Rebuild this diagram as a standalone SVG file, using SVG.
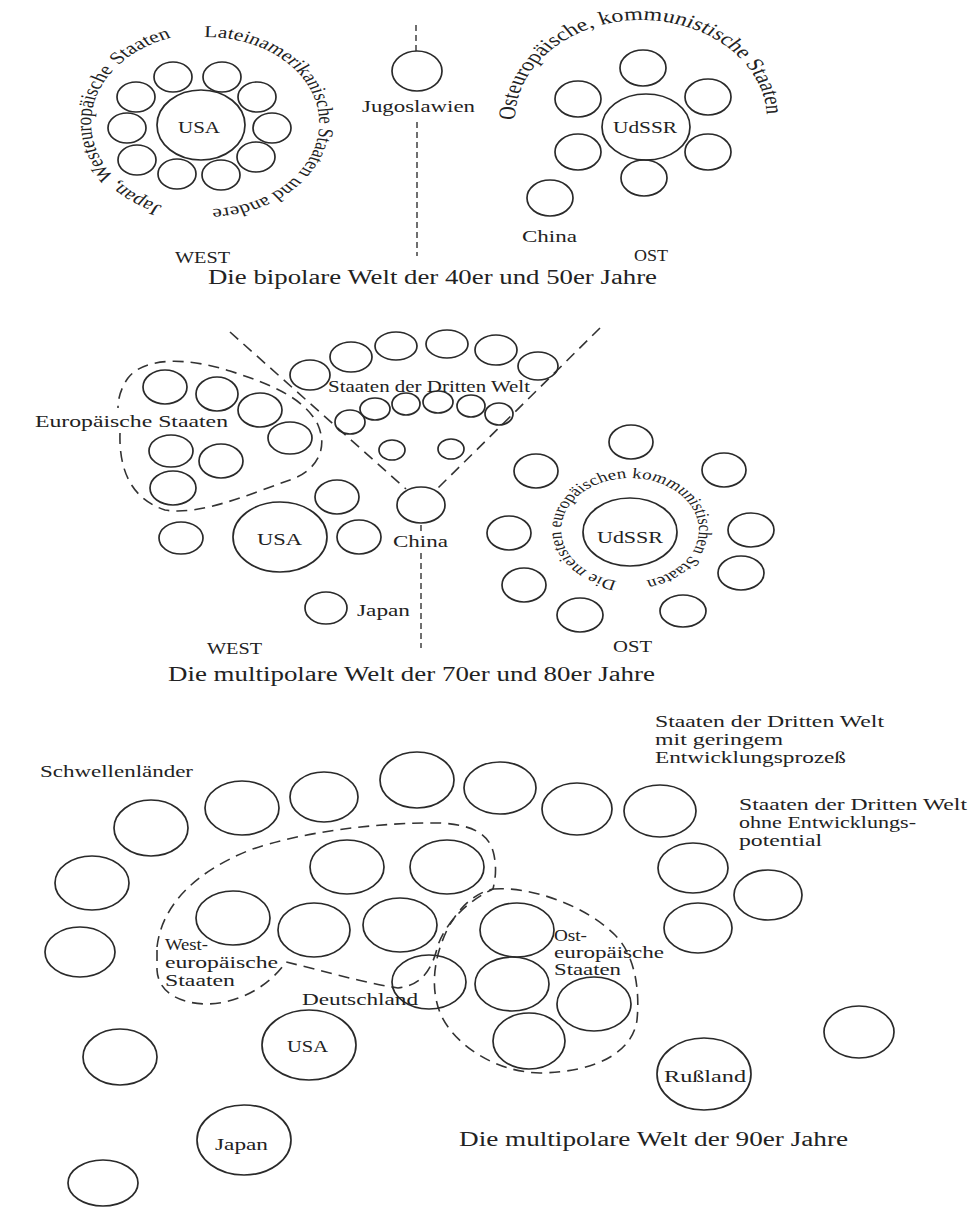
<svg xmlns="http://www.w3.org/2000/svg" xmlns:xlink="http://www.w3.org/1999/xlink" width="976" height="1208" viewBox="0 0 976 1208">
<style>
.c{fill:none;stroke:#2a2a2a;stroke-width:1.7}
.d{fill:none;stroke:#333;stroke-width:1.6;stroke-dasharray:11 7}
.v{fill:none;stroke:#333;stroke-width:1.4;stroke-dasharray:6 4}
.t{font-family:"Liberation Serif","Times New Roman",serif;font-size:17px;fill:#222}
.cap{font-size:20px}
.sm{font-size:16px}
.a1{font-size:17px}
.a2{font-size:16.6px}
.a3{font-size:18.5px}
.a4{font-size:14.7px}
</style>
<defs>
<path id="arcL1" d="M-35.2,82.8 A90,90 0 0 1 -27.8,-85.6"/>
<path id="arcR1" d="M-3,-85.95 A86,86 0 1 1 1.5,85.99"/>
<path id="arcO1" d="M-97,0 A97,100 0 1 1 96.76,6.98"/>
<path id="arcM" d="M-10.11,51.04 A53,52 0 1 1 12.82,50.46"/>
</defs>
<rect width="976" height="1208" fill="#fff"/>

<g id="connectors">
<line class="v" x1="416" y1="25" x2="416" y2="52"/>
<line class="v" x1="417" y1="122" x2="417" y2="256"/>
<path class="d" d="M120,433 C119,465 128,498 165,510 C200,516 250,494 290,480 C318,470 328,448 318,425 C305,398 270,384 230,371 C190,358 145,356 128,378 C121,388 118,398 118,408"/>
<line class="d" x1="230" y1="332" x2="406" y2="489"/>
<line class="d" x1="600" y1="328" x2="438" y2="488"/>
<line class="v" x1="421" y1="525" x2="421" y2="531"/>
<line class="v" x1="421" y1="553" x2="421" y2="648"/>
<path class="d" d="M157,947 C162,905 195,872 250,850 C300,832 380,822 440,823 C475,825 490,835 494,855 C497,870 495,880 493,889 C470,900 447,920 438,945 C433,965 425,985 398,988 C360,982 320,970 286,962 C270,985 240,1004 205,1004 C176,1003 158,990 157,970 Z"/>
<path class="d" d="M493,889 C530,886 585,905 615,935 C635,955 640,990 637,1020 C633,1050 600,1072 540,1073 C495,1072 455,1045 441,1015 C430,990 433,958 448,928 C460,906 475,893 493,889 Z"/>
</g>

<!-- ===== Die bipolare Welt ===== -->
<g id="usa-1950">
<ellipse class="c" cx="201" cy="125" rx="44" ry="35"/>
<text class="t" x="178" y="133" textLength="42" lengthAdjust="spacingAndGlyphs">USA</text>
</g>
<g id="west-allies-1950">
<ellipse class="c" cx="173" cy="77" rx="19" ry="15"/>
<ellipse class="c" cx="222" cy="77" rx="19" ry="15"/>
<ellipse class="c" cx="257" cy="97" rx="19" ry="15"/>
<ellipse class="c" cx="272" cy="128" rx="19" ry="15"/>
<ellipse class="c" cx="256" cy="157" rx="19" ry="15"/>
<ellipse class="c" cx="221" cy="175" rx="19" ry="15"/>
<ellipse class="c" cx="177" cy="174" rx="19" ry="15"/>
<ellipse class="c" cx="137" cy="160" rx="19" ry="15"/>
<ellipse class="c" cx="127" cy="128" rx="19" ry="15"/>
<ellipse class="c" cx="136" cy="97" rx="19" ry="15"/>
</g>
<g id="west-labels-1950" transform="translate(208,123) scale(1.3,1)">
<text class="t a1"><textPath xlink:href="#arcL1" href="#arcL1" startOffset="0">Japan,</textPath></text>
<text class="t a1"><textPath xlink:href="#arcL1" href="#arcL1" startOffset="47.2">Westeuropäische</textPath></text>
<text class="t a1"><textPath xlink:href="#arcL1" href="#arcL1" startOffset="167.6">Staaten</textPath></text>
<text class="t a2"><textPath xlink:href="#arcR1" href="#arcR1" startOffset="0">Lateinamerikanische</textPath></text>
<text class="t a2"><textPath xlink:href="#arcR1" href="#arcR1" startOffset="142.4">Staaten</textPath></text>
<text class="t a2"><textPath xlink:href="#arcR1" href="#arcR1" startOffset="195.5">und</textPath></text>
<text class="t a2"><textPath xlink:href="#arcR1" href="#arcR1" startOffset="224.5">andere</textPath></text>
</g>
<g id="west-1950"><text class="t" x="175" y="263" textLength="55" lengthAdjust="spacingAndGlyphs">WEST</text></g>
<g id="jugoslawien">
<ellipse class="c" cx="417" cy="71" rx="25" ry="20"/>
<text class="t" x="362" y="112" textLength="113" lengthAdjust="spacingAndGlyphs">Jugoslawien</text>
</g>
<g id="udssr-1950">
<ellipse class="c" cx="646" cy="127" rx="44" ry="33"/>
<text class="t" x="613" y="133" textLength="64" lengthAdjust="spacingAndGlyphs">UdSSR</text>
</g>
<g id="east-allies-1950">
<ellipse class="c" cx="643" cy="68" rx="23" ry="18"/>
<ellipse class="c" cx="578" cy="99" rx="23" ry="18"/>
<ellipse class="c" cx="708" cy="97" rx="23" ry="18"/>
<ellipse class="c" cx="578" cy="152" rx="23" ry="18"/>
<ellipse class="c" cx="708" cy="152" rx="23" ry="18"/>
<ellipse class="c" cx="644" cy="178" rx="23" ry="18"/>
</g>
<g id="east-label-1950" transform="translate(641,120) scale(1.3,1)">
<text class="t a3"><textPath xlink:href="#arcO1" href="#arcO1" startOffset="0">Osteuropäische,</textPath></text>
<text class="t a3"><textPath xlink:href="#arcO1" href="#arcO1" startOffset="123.3">kommunistische</textPath></text>
<text class="t a3"><textPath xlink:href="#arcO1" href="#arcO1" startOffset="249.2">Staaten</textPath></text>
</g>
<g id="china-1950">
<ellipse class="c" cx="550" cy="198" rx="23" ry="18"/>
<text class="t" x="522" y="242" textLength="55" lengthAdjust="spacingAndGlyphs">China</text>
</g>
<g id="ost-1950"><text class="t" x="634" y="261" textLength="34" lengthAdjust="spacingAndGlyphs">OST</text></g>
<g id="caption-1950"><text class="t cap" x="208" y="284" textLength="449" lengthAdjust="spacingAndGlyphs">Die bipolare Welt der 40er und 50er Jahre</text></g>

<!-- ===== Die multipolare Welt 70er/80er ===== -->
<g id="europa-1970">
<ellipse class="c" cx="165" cy="387" rx="22" ry="17"/>
<ellipse class="c" cx="217" cy="394" rx="21" ry="17"/>
<ellipse class="c" cx="260" cy="410" rx="22" ry="17"/>
<ellipse class="c" cx="290" cy="438" rx="22" ry="16"/>
<ellipse class="c" cx="171" cy="451" rx="22" ry="16"/>
<ellipse class="c" cx="221" cy="461" rx="22" ry="17"/>
<ellipse class="c" cx="173" cy="488" rx="23" ry="17"/>
<text class="t" x="35" y="427" textLength="193" lengthAdjust="spacingAndGlyphs">Europäische Staaten</text>
</g>
<g id="west-others-1970">
<ellipse class="c" cx="181" cy="538" rx="22" ry="16"/>
<ellipse class="c" cx="337" cy="497" rx="22" ry="17"/>
<ellipse class="c" cx="359" cy="537" rx="22" ry="17"/>
</g>
<g id="usa-1970">
<ellipse class="c" cx="280" cy="537" rx="47" ry="35"/>
<text class="t" x="257" y="545" textLength="45" lengthAdjust="spacingAndGlyphs">USA</text>
</g>
<g id="japan-1970">
<ellipse class="c" cx="326" cy="608" rx="21" ry="16"/>
<text class="t" x="357" y="616" textLength="53" lengthAdjust="spacingAndGlyphs">Japan</text>
</g>
<g id="dritte-welt-1970">
<ellipse class="c" cx="310" cy="375" rx="20" ry="15"/>
<ellipse class="c" cx="351" cy="357" rx="21" ry="15"/>
<ellipse class="c" cx="396" cy="346" rx="21" ry="14"/>
<ellipse class="c" cx="447" cy="344" rx="21" ry="14"/>
<ellipse class="c" cx="496" cy="350" rx="21" ry="15"/>
<ellipse class="c" cx="538" cy="366" rx="20" ry="14"/>
<ellipse class="c" cx="350" cy="422" rx="15" ry="12"/>
<ellipse class="c" cx="375" cy="409" rx="15" ry="11"/>
<ellipse class="c" cx="406" cy="404" rx="14" ry="11"/>
<ellipse class="c" cx="438" cy="402" rx="15" ry="11"/>
<ellipse class="c" cx="471" cy="406" rx="14" ry="11"/>
<ellipse class="c" cx="499" cy="414" rx="14" ry="11"/>
<ellipse class="c" cx="392" cy="450" rx="13" ry="10"/>
<ellipse class="c" cx="451" cy="449" rx="13" ry="10"/>
<text class="t" x="328" y="392" textLength="202" lengthAdjust="spacingAndGlyphs">Staaten der Dritten Welt</text>
</g>
<g id="china-1970">
<ellipse class="c" cx="421" cy="505" rx="24" ry="18"/>
<text class="t" x="393" y="547" textLength="55" lengthAdjust="spacingAndGlyphs">China</text>
</g>
<g id="udssr-1970">
<ellipse class="c" cx="630" cy="532" rx="47" ry="34"/>
<text class="t" x="597" y="543" textLength="66" lengthAdjust="spacingAndGlyphs">UdSSR</text>
</g>
<g id="east-allies-1970">
<ellipse class="c" cx="631" cy="442" rx="22" ry="17"/>
<ellipse class="c" cx="536" cy="471" rx="22" ry="17"/>
<ellipse class="c" cx="724" cy="470" rx="22" ry="17"/>
<ellipse class="c" cx="509" cy="533" rx="22" ry="17"/>
<ellipse class="c" cx="751" cy="530" rx="23" ry="17"/>
<ellipse class="c" cx="524" cy="585" rx="22" ry="17"/>
<ellipse class="c" cx="741" cy="573" rx="23" ry="17"/>
<ellipse class="c" cx="580" cy="615" rx="23" ry="17"/>
<ellipse class="c" cx="683" cy="611" rx="23" ry="16"/>
</g>
<g id="east-label-1970" transform="translate(630,530) scale(1.3,1)">
<text class="t a4"><textPath xlink:href="#arcM" href="#arcM" startOffset="0">Die</textPath></text>
<text class="t a4"><textPath xlink:href="#arcM" href="#arcM" startOffset="24.9">meisten</textPath></text>
<text class="t a4"><textPath xlink:href="#arcM" href="#arcM" startOffset="74.3">europäischen</textPath></text>
<text class="t a4"><textPath xlink:href="#arcM" href="#arcM" startOffset="155.6">kommunistischen</textPath></text>
<text class="t a4"><textPath xlink:href="#arcM" href="#arcM" startOffset="263">Staaten</textPath></text>
</g>
<g id="west-1970"><text class="t" x="207" y="654" textLength="55" lengthAdjust="spacingAndGlyphs">WEST</text></g>
<g id="ost-1970"><text class="t" x="613" y="652" textLength="39" lengthAdjust="spacingAndGlyphs">OST</text></g>
<g id="caption-1970"><text class="t cap" x="168" y="681" textLength="487" lengthAdjust="spacingAndGlyphs">Die multipolare Welt der 70er und 80er Jahre</text></g>

<!-- ===== Die multipolare Welt 90er ===== -->
<g id="schwellenlaender">
<text class="t sm" x="40" y="777" textLength="153" lengthAdjust="spacingAndGlyphs">Schwellenländer</text>
<ellipse class="c" cx="151" cy="828" rx="37" ry="28"/>
<ellipse class="c" cx="242" cy="808" rx="37" ry="27"/>
<ellipse class="c" cx="324" cy="797" rx="34" ry="25"/>
<ellipse class="c" cx="417" cy="780" rx="37" ry="28"/>
<ellipse class="c" cx="92" cy="883" rx="37" ry="27"/>
<ellipse class="c" cx="80" cy="952" rx="35" ry="25"/>
<ellipse class="c" cx="120" cy="1057" rx="37" ry="28"/>
<ellipse class="c" cx="103" cy="1183" rx="35" ry="23"/>
</g>
<g id="dritte-welt-gering">
<ellipse class="c" cx="500" cy="788" rx="36" ry="26"/>
<ellipse class="c" cx="577" cy="809" rx="35" ry="26"/>
<ellipse class="c" cx="660" cy="811" rx="36" ry="26"/>
<text class="t sm" x="655" y="727" textLength="229" lengthAdjust="spacingAndGlyphs">Staaten der Dritten Welt</text>
<text class="t sm" x="655" y="745" textLength="128" lengthAdjust="spacingAndGlyphs">mit geringem</text>
<text class="t sm" x="655" y="763" textLength="191" lengthAdjust="spacingAndGlyphs">Entwicklungsprozeß</text>
</g>
<g id="dritte-welt-ohne">
<ellipse class="c" cx="693" cy="868" rx="35" ry="25"/>
<ellipse class="c" cx="768" cy="895" rx="34" ry="25"/>
<ellipse class="c" cx="698" cy="928" rx="34" ry="25"/>
<ellipse class="c" cx="859" cy="1032" rx="35" ry="26"/>
<text class="t sm" x="739" y="810" textLength="228" lengthAdjust="spacingAndGlyphs">Staaten der Dritten Welt</text>
<text class="t sm" x="739" y="828" textLength="177" lengthAdjust="spacingAndGlyphs">ohne Entwicklungs-</text>
<text class="t sm" x="739" y="846" textLength="83" lengthAdjust="spacingAndGlyphs">potential</text>
</g>
<g id="westeuropa-1990">
<ellipse class="c" cx="347" cy="867" rx="37" ry="27"/>
<ellipse class="c" cx="447" cy="867" rx="37" ry="27"/>
<ellipse class="c" cx="233" cy="918" rx="37" ry="27"/>
<ellipse class="c" cx="314" cy="930" rx="36" ry="27"/>
<ellipse class="c" cx="400" cy="925" rx="37" ry="27"/>
<text class="t sm" x="165" y="950" textLength="43" lengthAdjust="spacingAndGlyphs">West-</text>
<text class="t sm" x="165" y="968" textLength="113" lengthAdjust="spacingAndGlyphs">europäische</text>
<text class="t sm" x="165" y="986" textLength="70" lengthAdjust="spacingAndGlyphs">Staaten</text>
</g>
<g id="deutschland">
<ellipse class="c" cx="429" cy="982" rx="37" ry="27"/>
<text class="t sm" x="302" y="1005" textLength="116" lengthAdjust="spacingAndGlyphs">Deutschland</text>
</g>
<g id="osteuropa-1990">
<ellipse class="c" cx="517" cy="930" rx="37" ry="27"/>
<ellipse class="c" cx="512" cy="984" rx="37" ry="27"/>
<ellipse class="c" cx="594" cy="1004" rx="37" ry="27"/>
<ellipse class="c" cx="529" cy="1041" rx="36" ry="28"/>
<text class="t sm" x="554" y="941" textLength="33" lengthAdjust="spacingAndGlyphs">Ost-</text>
<text class="t sm" x="554" y="958" textLength="110" lengthAdjust="spacingAndGlyphs">europäische</text>
<text class="t sm" x="554" y="975" textLength="67" lengthAdjust="spacingAndGlyphs">Staaten</text>
</g>
<g id="usa-1990">
<ellipse class="c" cx="309" cy="1045" rx="47" ry="35"/>
<text class="t sm" x="287" y="1052" textLength="41" lengthAdjust="spacingAndGlyphs">USA</text>
</g>
<g id="japan-1990">
<ellipse class="c" cx="244" cy="1140" rx="47" ry="35"/>
<text class="t sm" x="215" y="1150" textLength="53" lengthAdjust="spacingAndGlyphs">Japan</text>
</g>
<g id="russland">
<ellipse class="c" cx="704" cy="1074" rx="47" ry="36"/>
<text class="t sm" x="664" y="1082" textLength="82" lengthAdjust="spacingAndGlyphs">Rußland</text>
</g>
<g id="caption-1990"><text class="t cap" x="459" y="1146" textLength="389" lengthAdjust="spacingAndGlyphs">Die multipolare Welt der 90er Jahre</text></g>
</svg>
